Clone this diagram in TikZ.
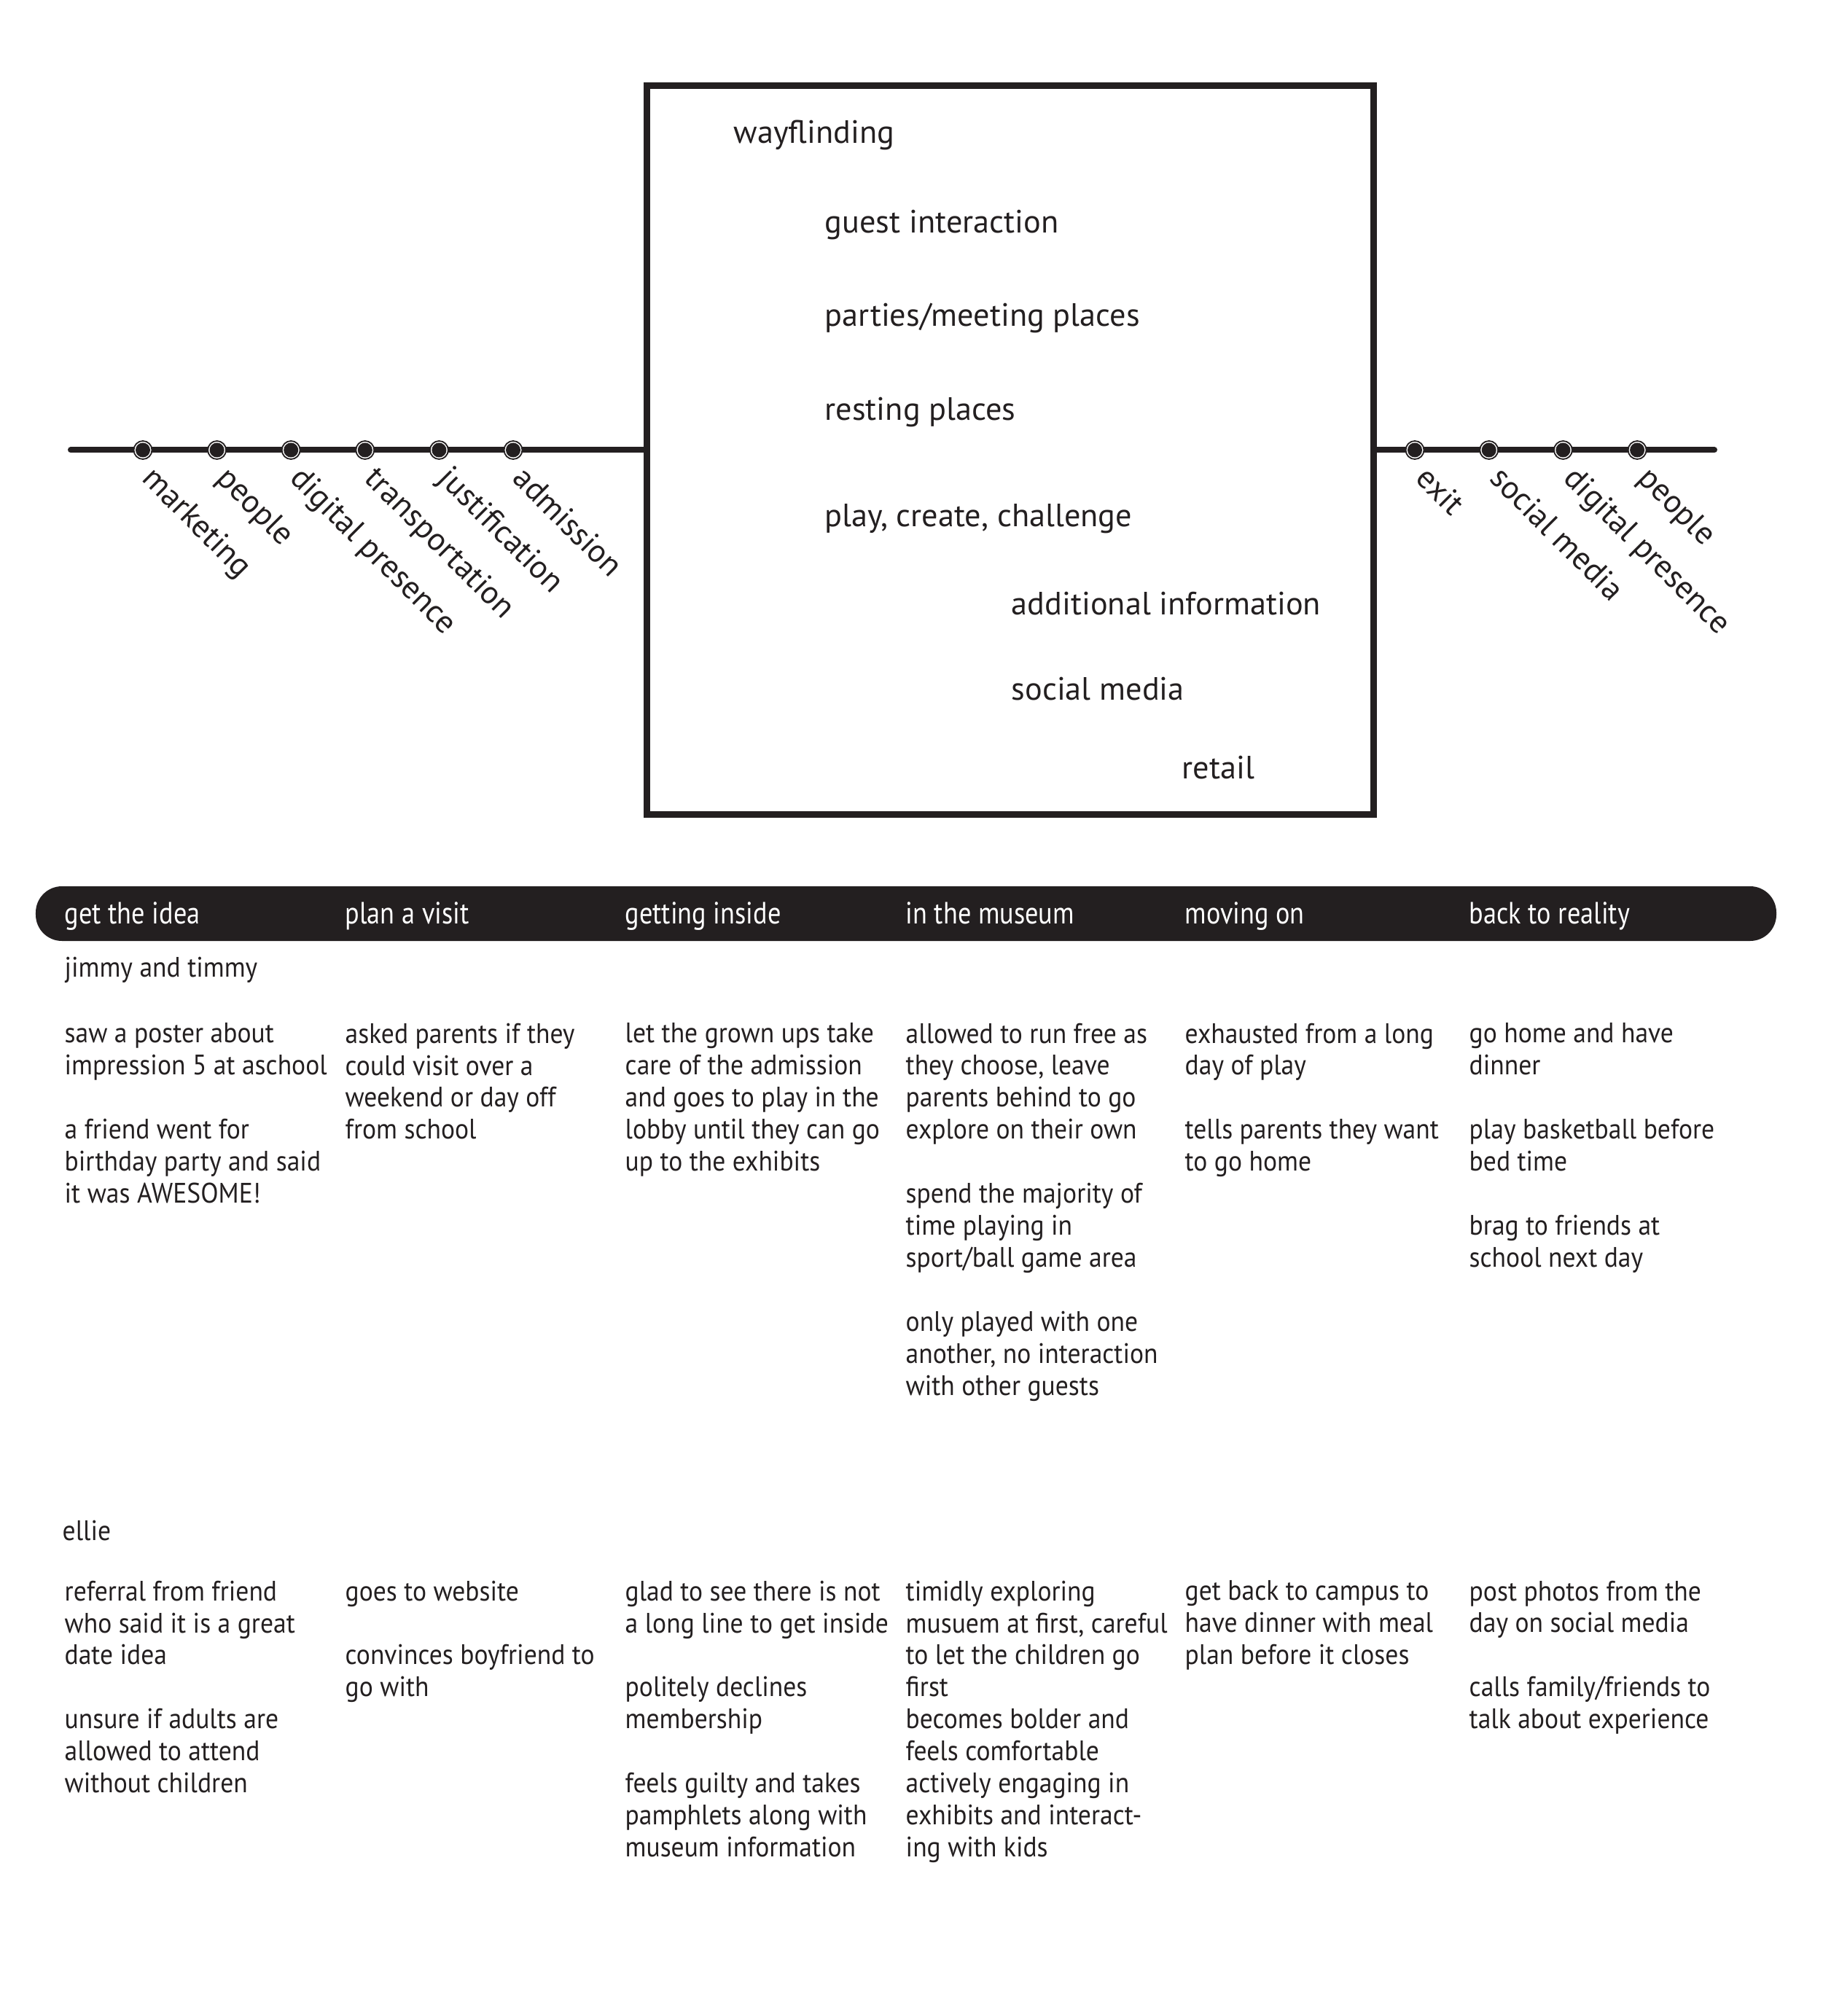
\documentclass[tikz,border=0pt]{standalone}
\usepackage{fontspec}
\setmainfont{PT Sans}
\newfontfamily\narrowfont[FakeStretch=0.92]{PT Sans}
\newfontfamily\headfont[FakeStretch=0.86]{PT Sans}
\usepackage{tikz}
\definecolor{ink}{HTML}{231F20}

\begin{document}
\begin{tikzpicture}[color=ink,
    dot/.style={circle, inner sep=0pt, minimum size=0.25cm, fill=white, draw=ink, line width=0.018cm,
        path picture={\fill[ink] (path picture bounding box.center) circle (0.1cm);}},
    tag/.style={rotate=-45, anchor=base west, inner sep=0pt, font=\fontsize{12.6}{15}\selectfont},
    item/.style={anchor=base west, inner sep=0pt, font=\fontsize{12.6}{15}\selectfont},
    phase/.style={anchor=base west, inner sep=0pt, text=white, font=\headfont\fontsize{12}{14}\selectfont},
    who/.style={anchor=base west, inner sep=0pt, font=\narrowfont\fontsize{11}{12.5}\selectfont},
    note/.style={anchor=north west, inner sep=0pt, align=left, execute at begin node=\strut, font=\narrowfont\fontsize{11}{12.5}\selectfont}]
    \useasboundingbox (0,0) rectangle (25,-27.66);

    % Museum box
    \node[draw, line width=0.09cm, minimum width=9.97cm, minimum height=9.99cm, inner sep=0pt, outer sep=0pt] (museum) at (13.855,-6.175) {};
    \node[item] (way) at (10.06,-1.97) {wayflinding};
    \node[item] (guest) at (11.31,-3.20) {guest interaction};
    \node[item] (parties) at (11.31,-4.48) {parties/meeting places};
    \node[item] (resting) at (11.31,-5.77) {resting places};
    \node[item] (play) at (11.31,-7.23) {play, create, challenge};
    \node[item] (extra) at (13.87,-8.43) {additional information};
    \node[item] (social) at (13.87,-9.60) {social media};
    \node[item] (retail) at (16.21,-10.68) {retail};

    % Timeline
    \coordinate (start) at (0.97,-6.175);
    \coordinate (finish) at (23.52,-6.175);
    \draw[line width=0.08cm, line cap=round] (start) -- (museum.west);
    \draw[line width=0.08cm, line cap=round] (museum.east) -- (finish);

    \foreach \name [count=\i from 0] in {marketing, people, digital presence, transportation, justification, admission} {
        \node[dot] (pre\i) at ({1.96+1.016*\i},-6.175) {};
        \node[tag] at ([shift={(-0.03,-0.41)}]pre\i.center) {\name};
    }
    \foreach \name [count=\i from 0] in {exit, social media, digital presence, people} {
        \node[dot] (post\i) at ({19.41+1.017*\i},-6.175) {};
        \node[tag] at ([shift={(-0.01,-0.41)}]post\i.center) {\name};
    }

    % Phases
    \node[fill=ink, rounded corners=0.36cm, minimum width=23.88cm, minimum height=0.75cm, inner sep=0pt] (phases) at (12.43,-12.535) {};
    \foreach \x/\t [count=\i] in {0.88/get the idea, 4.73/plan a visit, 8.57/getting inside, 12.42/in the museum, 16.25/moving on, 20.15/back to reality}
        \node[phase] (phase\i) at (\x,-12.67) {\t};

    % jimmy and timmy
    \node[who] (kids) at (0.88,-13.40) {jimmy and timmy};
    \node[note] (k1) at (0.88,-14.03) {saw a poster about\\impression 5 at aschool\\[12.5pt]a friend went for\\birthday party and said\\it was AWESOME!};
    \node[note] (k2) at (4.73,-14.03) {asked parents if they\\could visit over a\\weekend or day off\\from school};
    \node[note] (k3) at (8.57,-14.03) {let the grown ups take\\care of the admission\\and goes to play in the\\lobby until they can go\\up to the exhibits};
    \node[note] (k4) at (12.42,-14.03) {allowed to run free as\\they choose, leave\\parents behind to go\\explore on their own\\[12.5pt]spend the majority of\\time playing in\\sport/ball game area\\[12.5pt]only played with one\\another, no interaction\\with other guests};
    \node[note] (k5) at (16.25,-14.03) {exhausted from a long\\day of play\\[12.5pt]tells parents they want\\to go home};
    \node[note] (k6) at (20.15,-14.03) {go home and have\\dinner\\[12.5pt]play basketball before\\bed time\\[12.5pt]brag to friends at\\school next day};

    % ellie
    \node[who] (ellie) at (0.85,-21.13) {ellie};
    \node[note] (e1) at (0.88,-21.68) {referral from friend\\who said it is a great\\date idea\\[12.5pt]unsure if adults are\\allowed to attend\\without children};
    \node[note] (e2) at (4.73,-21.68) {goes to website\\[12.5pt]convinces boyfriend to\\go with};
    \node[note] (e3) at (8.57,-21.68) {glad to see there is not\\a long line to get inside\\[12.5pt]politely declines\\membership\\[12.5pt]feels guilty and takes\\pamphlets along with\\museum information};
    \node[note] (e4) at (12.42,-21.68) {timidly exploring\\musuem at first, careful\\to let the children go\\first\\becomes bolder and\\feels comfortable\\actively engaging in\\exhibits and interact-\\ing with kids};
    \node[note] (e5) at (16.25,-21.68) {get back to campus to\\have dinner with meal\\plan before it closes};
    \node[note] (e6) at (20.15,-21.68) {post photos from the\\day on social media\\[12.5pt]calls family/friends to\\talk about experience};
\end{tikzpicture}
\end{document}
